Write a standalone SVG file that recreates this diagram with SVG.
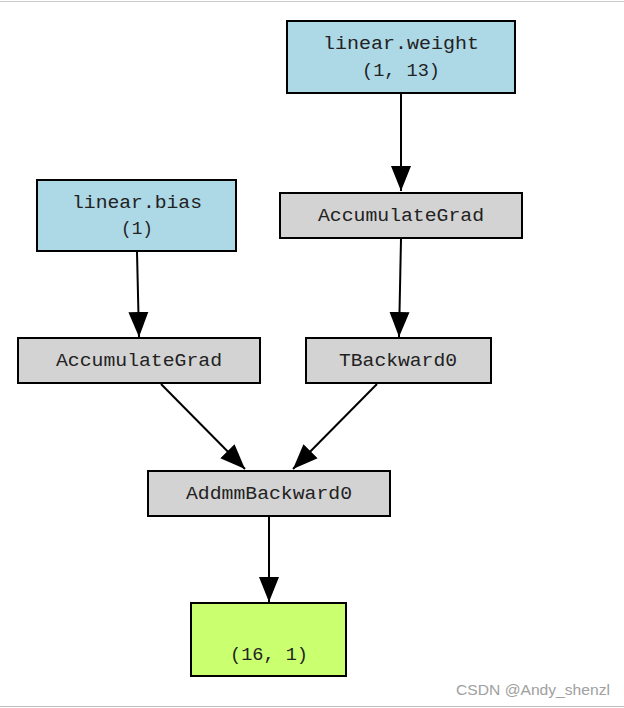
<svg xmlns="http://www.w3.org/2000/svg" width="624" height="708" viewBox="0 0 624 708">
<defs>
<style>
.n{stroke:#000;stroke-width:2}
.blue{fill:#add8e6}
.gray{fill:#d3d3d3}
.green{fill:#caff70}
.t{font-family:"Liberation Mono","DejaVu Sans Mono",monospace;font-size:18px;fill:#222;text-anchor:middle}
.e{stroke:#000;stroke-width:2;fill:none}
</style>
<marker id="ah" markerUnits="userSpaceOnUse" markerWidth="26" markerHeight="22" refX="25" refY="11" orient="auto">
<polygon points="0,1 25,11 0,21" fill="#000"/>
</marker>
</defs>
<rect x="0" y="0" width="624" height="708" fill="#fff"/>
<line x1="0" y1="1.5" x2="624" y2="1.5" stroke="#ccc" stroke-width="1"/>
<line x1="0" y1="706.5" x2="624" y2="706.5" stroke="#bbb" stroke-width="1"/>
<g id="connectors">
<path class="e" d="M401,94 L401,191" marker-end="url(#ah)"/>
<path class="e" d="M401,239 L399,337" marker-end="url(#ah)"/>
<path class="e" d="M137,252 L139,337" marker-end="url(#ah)"/>
<path class="e" d="M161,384 L245,469" marker-end="url(#ah)"/>
<path class="e" d="M377,384 L293,469" marker-end="url(#ah)"/>
<path class="e" d="M269,517 L269,602" marker-end="url(#ah)"/>
</g>
<g id="linear_weight">
<rect class="n blue" x="287" y="21" width="228" height="72"/>
<text class="t" x="401" y="49" textLength="156" lengthAdjust="spacingAndGlyphs">linear.weight</text>
<text class="t" x="401" y="76" textLength="78" lengthAdjust="spacingAndGlyphs">(1, 13)</text>
</g>
<g id="linear_bias">
<rect class="n blue" x="37" y="180" width="199" height="71"/>
<text class="t" x="137" y="208" textLength="130" lengthAdjust="spacingAndGlyphs">linear.bias</text>
<text class="t" x="137" y="234" textLength="32" lengthAdjust="spacingAndGlyphs">(1)</text>
</g>
<g id="accgrad_right">
<rect class="n gray" x="280" y="193" width="242" height="45"/>
<text class="t" x="401" y="221" textLength="166" lengthAdjust="spacingAndGlyphs">AccumulateGrad</text>
</g>
<g id="accgrad_left">
<rect class="n gray" x="18" y="338" width="242" height="45"/>
<text class="t" x="139" y="366" textLength="166" lengthAdjust="spacingAndGlyphs">AccumulateGrad</text>
</g>
<g id="tbackward">
<rect class="n gray" x="306" y="338" width="185" height="45"/>
<text class="t" x="398" y="366" textLength="118" lengthAdjust="spacingAndGlyphs">TBackward0</text>
</g>
<g id="addmm">
<rect class="n gray" x="148" y="471" width="242" height="45"/>
<text class="t" x="269" y="499" textLength="166" lengthAdjust="spacingAndGlyphs">AddmmBackward0</text>
</g>
<g id="output">
<rect class="n green" x="191" y="603" width="155" height="73"/>
<text class="t" x="269" y="660" textLength="78" lengthAdjust="spacingAndGlyphs">(16, 1)</text>
</g>
<text x="456" y="695" font-family="Liberation Sans,Arial,sans-serif" font-size="14.5" fill="#a0a0a0" textLength="154" lengthAdjust="spacingAndGlyphs">CSDN @Andy_shenzl</text>
</svg>
